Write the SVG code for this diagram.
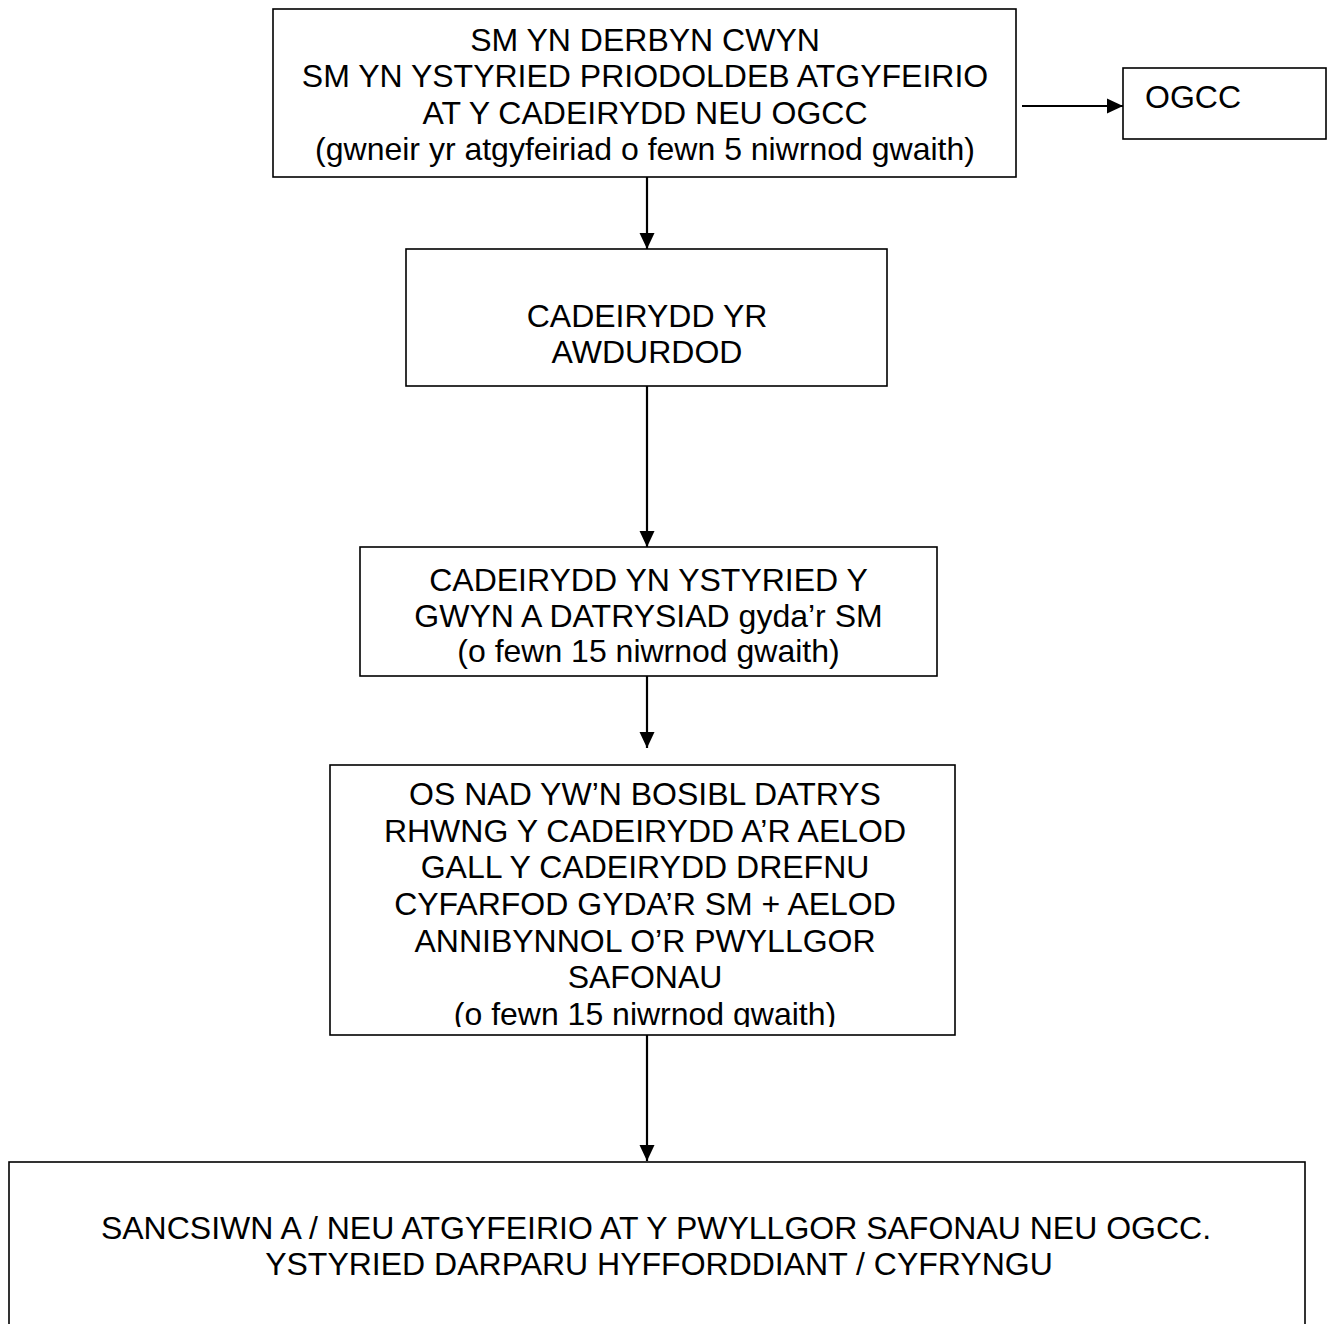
<svg xmlns="http://www.w3.org/2000/svg" width="1327" height="1324" viewBox="0 0 1327 1324">
<style>
.box{fill:#fff;stroke:#000;stroke-width:1.6}
.t{font-family:"Liberation Sans",Arial,sans-serif;font-size:32px;fill:#000;text-anchor:middle}
.c{stroke:#000;stroke-width:2.2;fill:none}
</style>
<defs>
<marker id="ah" markerUnits="userSpaceOnUse" markerWidth="18" markerHeight="17" refX="16" refY="8" orient="auto">
<path d="M0,0.5 L16,8 L0,15.5 z" fill="#000"/>
</marker>
<clipPath id="clip4"><rect x="330" y="765" width="625" height="262"/></clipPath>
</defs>
<rect width="1327" height="1324" fill="#fff"/>
<g id="n1">
<rect class="box" x="273" y="9" width="743" height="168"/>
<text class="t" x="645" y="50.5">SM YN DERBYN CWYN</text>
<text class="t" x="645" y="87">SM YN YSTYRIED PRIODOLDEB ATGYFEIRIO</text>
<text class="t" x="645" y="123.5">AT Y CADEIRYDD NEU OGCC</text>
<text class="t" x="645" y="160">(gwneir yr atgyfeiriad o fewn 5 niwrnod gwaith)</text>
</g>
<g id="n-ogcc">
<rect class="box" x="1123" y="68" width="203" height="71"/>
<text class="t" x="1145" y="108" style="text-anchor:start">OGCC</text>
</g>
<g id="n2">
<rect class="box" x="406" y="249" width="481" height="137"/>
<text class="t" x="647" y="327">CADEIRYDD YR</text>
<text class="t" x="647" y="363">AWDURDOD</text>
</g>
<g id="n3">
<rect class="box" x="360" y="547" width="577" height="129"/>
<text class="t" x="648.5" y="591">CADEIRYDD YN YSTYRIED Y</text>
<text class="t" x="648.5" y="627">GWYN A DATRYSIAD gyda’r SM</text>
<text class="t" x="648.5" y="662">(o fewn 15 niwrnod gwaith)</text>
</g>
<g id="n4">
<rect class="box" x="330" y="765" width="625" height="270"/>
<g clip-path="url(#clip4)">
<text class="t" x="645" y="805">OS NAD YW’N BOSIBL DATRYS</text>
<text class="t" x="645" y="841.5">RHWNG Y CADEIRYDD A’R AELOD</text>
<text class="t" x="645" y="878">GALL Y CADEIRYDD DREFNU</text>
<text class="t" x="645" y="915">CYFARFOD GYDA’R SM + AELOD</text>
<text class="t" x="645" y="951.5">ANNIBYNNOL O’R PWYLLGOR</text>
<text class="t" x="645" y="988">SAFONAU</text>
<text class="t" x="645" y="1025">(o fewn 15 niwrnod gwaith)</text>
</g>
</g>
<g id="n5">
<rect class="box" x="9" y="1162" width="1296" height="180"/>
<text class="t" x="656" y="1239">SANCSIWN A / NEU ATGYFEIRIO AT Y PWYLLGOR SAFONAU NEU OGCC.</text>
<text class="t" x="659" y="1275">YSTYRIED DARPARU HYFFORDDIANT / CYFRYNGU</text>
</g>
<g id="connectors">
<line class="c" x1="1022" y1="106" x2="1123" y2="106" marker-end="url(#ah)"/>
<line class="c" x1="647" y1="177" x2="647" y2="249" marker-end="url(#ah)"/>
<line class="c" x1="647" y1="386" x2="647" y2="547" marker-end="url(#ah)"/>
<line class="c" x1="647" y1="676" x2="647" y2="748" marker-end="url(#ah)"/>
<line class="c" x1="647" y1="1035" x2="647" y2="1161" marker-end="url(#ah)"/>
</g>
</svg>
